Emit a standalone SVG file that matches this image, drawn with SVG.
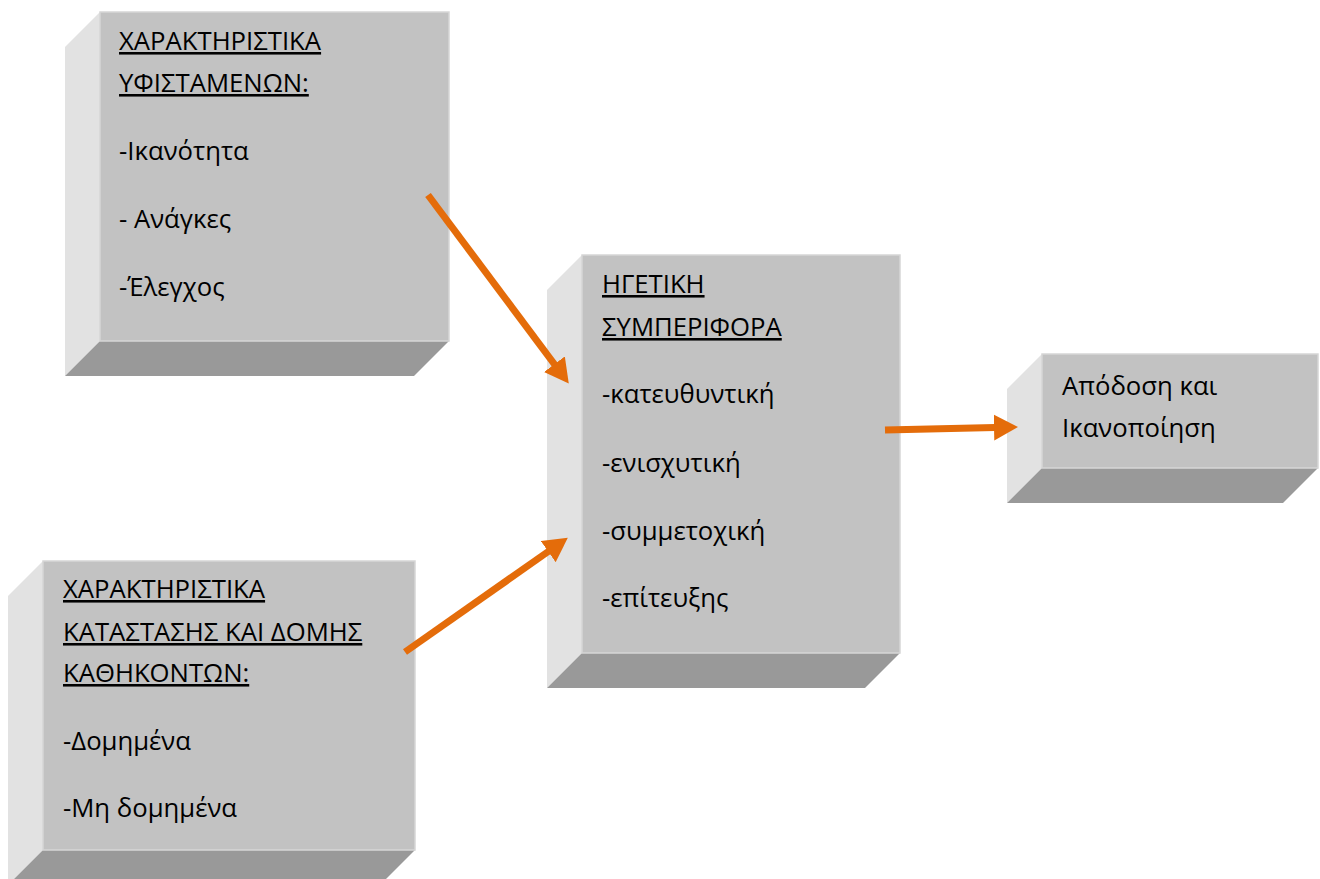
<svg xmlns="http://www.w3.org/2000/svg" width="1320" height="879" viewBox="0 0 1320 879">
<defs>
<style>
.front{fill:#c2c2c2;stroke:#d6d6d6;stroke-width:1.5}
.side{fill:#e2e2e2}
.bottom{fill:#999999}
text{font-family:"Open Sans","Noto Sans",sans-serif;font-size:25.7px;fill:#000}
.u{text-decoration:underline}
.conn{stroke:#e46c0a;stroke-width:7;fill:none;marker-end:url(#ah)}
</style>
<marker id="ah" markerUnits="userSpaceOnUse" markerWidth="24" markerHeight="26" refX="1" refY="13" orient="auto">
<path d="M0,0 L24,13 L0,26 z" fill="#e46c0a"/>
</marker>
</defs>
<rect width="1320" height="879" fill="#fff"/>
<g id="n1">
<polygon class="side" points="65,47 100,12 100,341 65,376"/>
<polygon class="bottom" points="100,341 449,341 414,376 65,376"/>
<rect class="front" x="100" y="12" width="349" height="329"/>
<text x="119" y="50" class="u">ΧΑΡΑΚΤΗΡΙΣΤΙΚΑ</text>
<text x="119" y="92" class="u">ΥΦΙΣΤΑΜΕΝΩΝ:</text>
<text x="119" y="160">-Ικανότητα</text>
<text x="119" y="228">- Ανάγκες</text>
<text x="119" y="296">-Έλεγχος</text>
</g>
<g id="n2">
<polygon class="side" points="547,290 582,255 582,653 547,688"/>
<polygon class="bottom" points="582,653 900,653 865,688 547,688"/>
<rect class="front" x="582" y="255" width="318" height="398"/>
<text x="602" y="293" class="u">ΗΓΕΤΙΚΗ</text>
<text x="602" y="336" class="u">ΣΥΜΠΕΡΙΦΟΡΑ</text>
<text x="602" y="403">-κατευθυντική</text>
<text x="602" y="472">-ενισχυτική</text>
<text x="602" y="540">-συμμετοχική</text>
<text x="602" y="607">-επίτευξης</text>
</g>
<g id="n3">
<polygon class="side" points="1007,389 1042,354 1042,468 1007,503"/>
<polygon class="bottom" points="1042,468 1318,468 1283,503 1007,503"/>
<rect class="front" x="1042" y="354" width="276" height="114"/>
<text x="1062" y="395">Απόδοση και</text>
<text x="1062" y="437">Ικανοποίηση</text>
</g>
<g id="n4">
<polygon class="side" points="8,596 43,561 43,850 8,885"/>
<polygon class="bottom" points="43,850 415,850 380,885 8,885"/>
<rect class="front" x="43" y="561" width="372" height="289"/>
<text x="63" y="598" class="u">ΧΑΡΑΚΤΗΡΙΣΤΙΚΑ</text>
<text x="63" y="641" class="u">ΚΑΤΑΣΤΑΣΗΣ ΚΑΙ ΔΟΜΗΣ</text>
<text x="63" y="682" class="u">ΚΑΘΗΚΟΝΤΩΝ:</text>
<text x="63" y="750">-Δομημένα</text>
<text x="63" y="817">-Μη δομημένα</text>
</g>
<g id="connectors">
<line class="conn" x1="428" y1="195" x2="555" y2="365"/>
<line class="conn" x1="405" y1="652" x2="549" y2="551"/>
<line class="conn" x1="885" y1="430" x2="995" y2="427.5"/>
</g>
</svg>
